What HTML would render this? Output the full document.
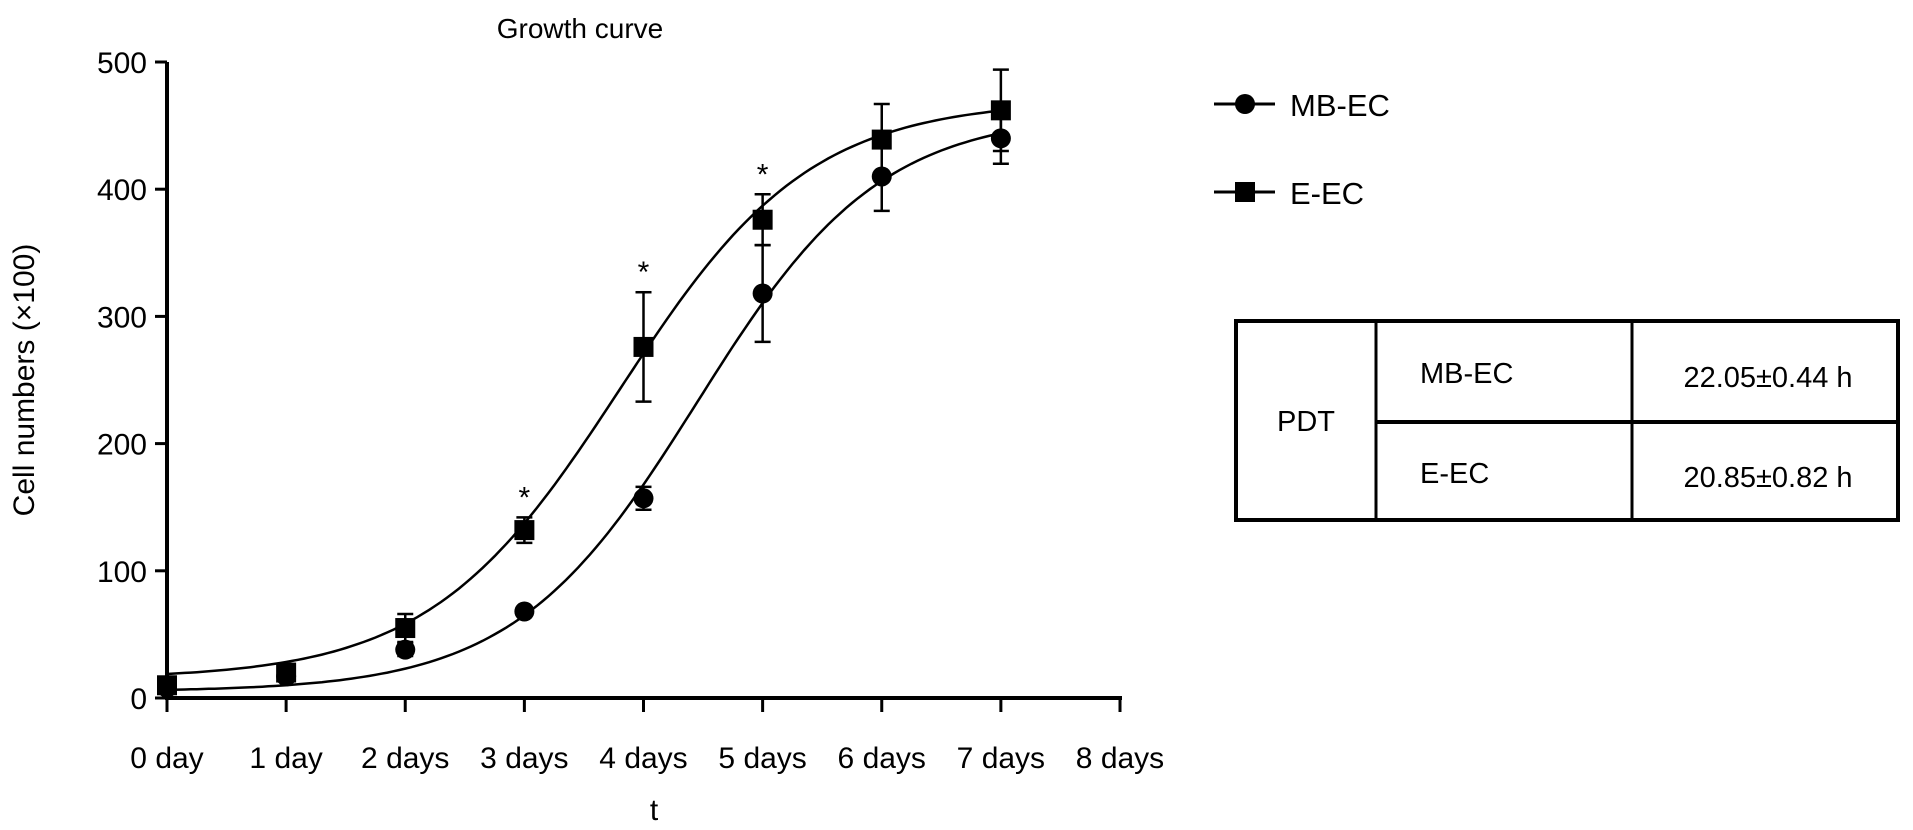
<!DOCTYPE html>
<html><head><meta charset="utf-8"><style>
body{margin:0;background:#fff;font-family:"Liberation Sans",Arial,sans-serif}
svg{display:block}
</style></head><body>
<svg id="chart" width="1913" height="830" viewBox="0 0 1913 830">
<text x="580" y="38" font-size="28" text-anchor="middle">Growth curve</text>
<text transform="translate(34,380) rotate(-90)" font-size="30" text-anchor="middle">Cell numbers (×100)</text>
<text x="654" y="820" font-size="30" text-anchor="middle">t</text>
<g id="axes"></g>
<g id="curves"></g>
<g id="marks"></g>
<g>
 <g>
  <line x1="1214" y1="104" x2="1275" y2="104" stroke="#000" stroke-width="3"/>
  <circle cx="1245" cy="104" r="10" fill="#000"/>
  <text x="1290" y="116" font-size="31">MB-EC</text>
 </g>
 <g>
  <line x1="1214" y1="192" x2="1275" y2="192" stroke="#000" stroke-width="3"/>
  <rect x="1235" y="182" width="20" height="20" fill="#000"/>
  <text x="1290" y="204" font-size="31">E-EC</text>
 </g>
</g>
<g font-size="29">
 <rect x="1236" y="321" width="662" height="199" fill="none" stroke="#000" stroke-width="4"/>
 <line x1="1376" y1="321" x2="1376" y2="520" stroke="#000" stroke-width="3"/>
 <line x1="1632" y1="321" x2="1632" y2="520" stroke="#000" stroke-width="3"/>
 <line x1="1376" y1="422" x2="1898" y2="422" stroke="#000" stroke-width="4"/>
 <text x="1306" y="431" text-anchor="middle">PDT</text>
 <text x="1420" y="383">MB-EC</text>
 <text x="1420" y="483">E-EC</text>
 <text x="1768" y="387" text-anchor="middle">22.05±0.44 h</text>
 <text x="1768" y="487" text-anchor="middle">20.85±0.82 h</text>
</g>
</svg>
<script>
const xLabels=["0 day","1 day","2 days","3 days","4 days","5 days","6 days","7 days","8 days"];
const yTicks=[0,100,200,300,400,500];
const days=[0,1,2,3,4,5,6,7];
const mbMean=[8,17,38,68,157,318,410,440];
const mbErr=[3,4,5,3,9,38,27,20];
const eMean=[10,20,55,132,276,376,439,462];
const eErr=[4,4,11,10,43,20,28,32];
const sigDays=[3,4,5];
const mbFit=[5,460,4.45,1.3];
const eFit=[15,470,3.8,1.25];
const NS="http://www.w3.org/2000/svg";
const X0=167,X1=1120,Y0=698,Y1=62;
const xs=d=>X0+(X1-X0)*d/8;
const ys=v=>Y0-(Y0-Y1)*v/500;
function mk(t,a,p){const e=document.createElementNS(NS,t);for(const k in a)e.setAttribute(k,a[k]);p.appendChild(e);return e;}
const axes=document.getElementById('axes');
let e=mk('line',{x1:X0,y1:Y1,x2:X0,y2:Y0+2,stroke:'#000','stroke-width':4},axes);


e=mk('line',{x1:X0-2,y1:Y0,x2:X1+2,y2:Y0,stroke:'#000','stroke-width':4},axes);


yTicks.forEach(v=>{mk('line',{x1:X0-12,y1:ys(v),x2:X0,y2:ys(v),stroke:'#000','stroke-width':3},axes);
 const t=mk('text',{x:X0-20,y:ys(v)+11,'font-size':30,'text-anchor':'end'},axes);t.textContent=v;
 
 });
xLabels.forEach((l,i)=>{mk('line',{x1:xs(i),y1:Y0,x2:xs(i),y2:Y0+14,stroke:'#000','stroke-width':3},axes);
 const t=mk('text',{x:xs(i),y:Y0+70,'font-size':30,'text-anchor':'middle'},axes);t.textContent=l;
 
 });
const curves=document.getElementById('curves');
function curve(p,name){let d='';for(let i=0;i<=140;i++){const x=i*7/140;const y=p[0]+(p[1]-p[0])/(1+Math.exp(-p[3]*(x-p[2])));d+=(i?'L':'M')+xs(x).toFixed(1)+','+ys(y).toFixed(1);}
 const c=mk('path',{d:d,fill:'none',stroke:'#000','stroke-width':2.5},curves);
 
 }
curve(mbFit,'mb-ec-fit-curve');curve(eFit,'e-ec-fit-curve');
const marks=document.getElementById('marks');
function err(x,m,s){const g=mk('g',{stroke:'#000','stroke-width':2.5},marks);
 mk('line',{x1:x,y1:ys(m-s),x2:x,y2:ys(m+s)},g);
 mk('line',{x1:x-8,y1:ys(m+s),x2:x+8,y2:ys(m+s)},g);
 mk('line',{x1:x-8,y1:ys(m-s),x2:x+8,y2:ys(m-s)},g);
 
 }
days.forEach((d,i)=>{err(xs(d),mbMean[i],mbErr[i]);err(xs(d),eMean[i],eErr[i]);});
days.forEach((d,i)=>{const c=mk('circle',{cx:xs(d),cy:ys(mbMean[i]),r:10,fill:'#000'},marks);
 
 
 const r=mk('rect',{x:xs(d)-10,y:ys(eMean[i])-10,width:20,height:20,fill:'#000'},marks);
 
 });
sigDays.forEach(d=>{const t=mk('text',{x:xs(d),y:ys(eMean[d]+eErr[d])-10,'font-size':30,'text-anchor':'middle'},marks);t.textContent='*';
 
 });
</script>
</body></html>
